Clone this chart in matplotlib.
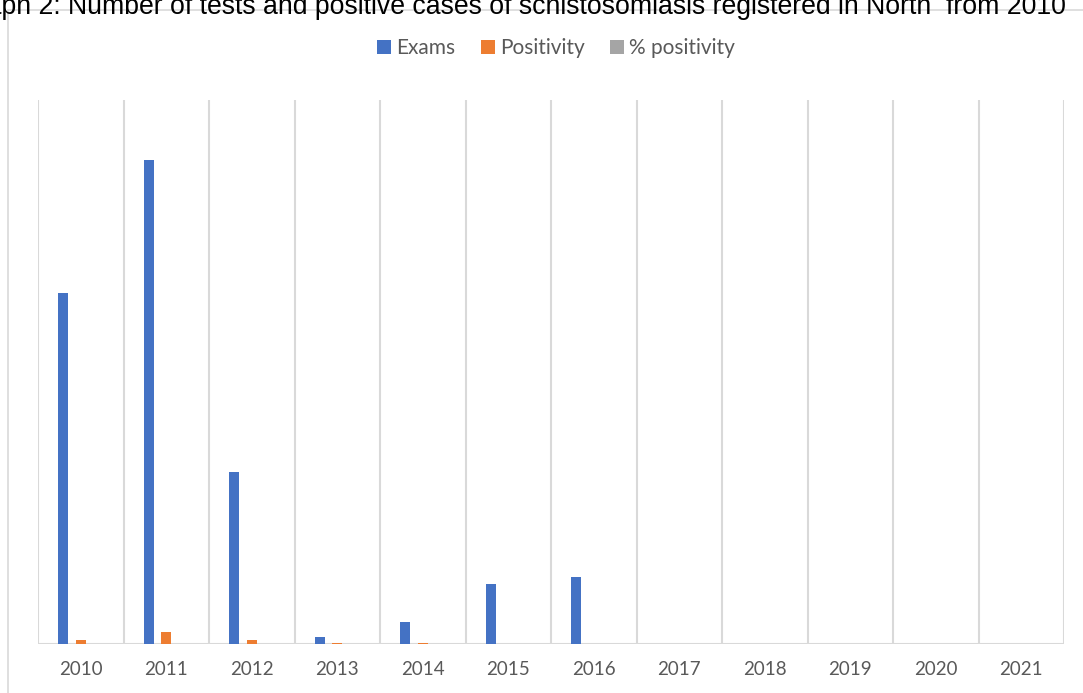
import matplotlib.pyplot as plt
import numpy as np
from matplotlib.patches import Rectangle

years = ["2010", "2011", "2012", "2013", "2014", "2015", "2016",
         "2017", "2018", "2019", "2020", "2021"]
exams = [1161, 1602, 569, 23, 73, 199, 222, 0, 0, 0, 0, 0]
positivity = [13, 40, 12, 3, 2, 0, 0, 0, 0, 0, 0, 0]
pct_positivity = [0.011, 0.025, 0.021, 0.13, 0.027, 0, 0, 0, 0, 0, 0, 0]

blue = "#4472C4"
orange = "#ED7D31"
gray = "#A5A5A5"
grid_col = "#D9D9D9"
text_col = "#595959"

fig = plt.figure(figsize=(10.83, 6.93), dpi=100)

# outer chart frame (runs off the right and bottom edges)
fig.patches.append(Rectangle((8 / 1083, -0.05), 1.2, 1 - 10 / 693 + 0.05,
                             transform=fig.transFigure, fill=False,
                             edgecolor=grid_col, linewidth=1.2))

# caption, partly cut off at top/left
fig.text(1066 / 1083, 1 - 14 / 693,
         "Graph 2: Number of tests and positive cases of schistosomiasis registered in North  from 2010",
         ha="right", va="baseline", fontsize=19.2, family="Liberation Sans", color="black")

ax = fig.add_axes([38 / 1083, 49 / 693, (1064 - 38) / 1083, (644 - 100) / 693])

x = np.arange(len(years))
w = 0.115
off = 0.205
ax.bar(x - off, exams, w, color=blue, label="Exams", zorder=3)
ax.bar(x, positivity, w, color=orange, label="Positivity", zorder=3)
ax.bar(x + off, pct_positivity, w, color=gray, label="% positivity", zorder=3)

ax.set_xlim(-0.5, len(years) - 0.5)
ax.set_ylim(0, 1800)

# vertical category gridlines
for b in np.arange(-0.5, len(years), 1.0):
    ax.axvline(b, color=grid_col, linewidth=1.5, zorder=1)
ax.axhline(0, color=grid_col, linewidth=1.5, zorder=2)

for s in ax.spines.values():
    s.set_visible(False)
ax.set_yticks([])
ax.set_xticks(x)
ax.set_xticklabels(years, fontsize=13.5, family="Lato", color=text_col)
ax.tick_params(axis="x", length=0, pad=12)

fig.legend(loc="center", bbox_to_anchor=(556 / 1083, 1 - 48 / 693), ncol=3,
           frameon=False, prop={"family": "Lato", "size": 15},
           labelcolor=text_col, handlelength=0.68, handleheight=0.68,
           handletextpad=0.25, columnspacing=1.2)

fig.savefig("out.png", dpi=100)
